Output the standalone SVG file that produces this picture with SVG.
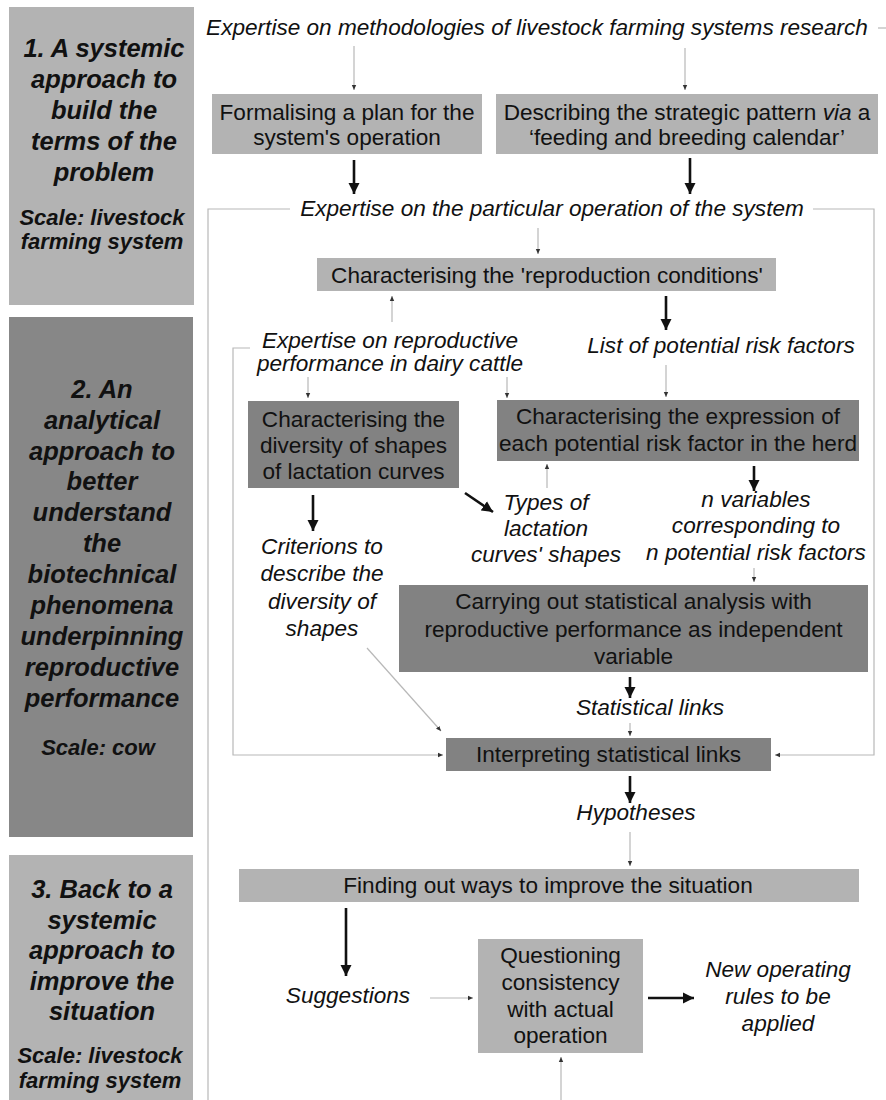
<svg xmlns="http://www.w3.org/2000/svg" width="886" height="1100" viewBox="0 0 886 1100">
<defs>
<marker id="thin" markerUnits="userSpaceOnUse" markerWidth="6" markerHeight="6" refX="5" refY="3" orient="auto"><path d="M0,0.8 L5,3 L0,5.2 z" fill="#333"/></marker>
<marker id="thick" markerUnits="userSpaceOnUse" markerWidth="12" markerHeight="12" refX="11" refY="6" orient="auto"><path d="M0,0.5 L11,6 L0,11.5 z" fill="#111"/></marker>
</defs>
<style>
text{font-family:"Liberation Sans",Arial,sans-serif;fill:#111;text-anchor:middle}
.b{font-size:22.6px}
.i{font-size:22.6px;font-style:italic}
.h{font-size:25.5px;font-weight:bold;font-style:italic}
.s{font-size:22px;font-weight:bold;font-style:italic}
.light{fill:#b3b3b3}
.dark{fill:#828282}
.p2{fill:#878787}
.tl{fill:none;stroke:#b8b8b8;stroke-width:1.2}
.ta{fill:none;stroke:#b8b8b8;stroke-width:1.2;marker-end:url(#thin)}
.k{fill:none;stroke:#111;stroke-width:2.6;marker-end:url(#thick)}
</style>
<rect width="886" height="1100" fill="#fff"/>

<g id="panel1">
<rect class="light" x="9" y="7" width="185" height="298"/>
<text class="h" x="104" y="57">1. A systemic</text>
<text class="h" x="104" y="88">approach to</text>
<text class="h" x="104" y="119">build the</text>
<text class="h" x="104" y="150">terms of the</text>
<text class="h" x="104" y="181">problem</text>
<text class="s" x="102" y="225">Scale: livestock</text>
<text class="s" x="102" y="249">farming system</text>
</g>
<g id="panel2">
<rect class="p2" x="9" y="317" width="184" height="520"/>
<text class="h" x="102" y="398">2. An</text>
<text class="h" x="102" y="429">analytical</text>
<text class="h" x="102" y="460">approach to</text>
<text class="h" x="102" y="490">better</text>
<text class="h" x="102" y="521">understand</text>
<text class="h" x="102" y="552">the</text>
<text class="h" x="102" y="583">biotechnical</text>
<text class="h" x="102" y="614">phenomena</text>
<text class="h" x="102" y="645">underpinning</text>
<text class="h" x="102" y="676">reproductive</text>
<text class="h" x="102" y="707">performance</text>
<text class="s" x="98" y="755">Scale: cow</text>
</g>
<g id="panel3">
<rect class="light" x="9" y="855" width="184" height="245"/>
<text class="h" x="102" y="898">3. Back to a</text>
<text class="h" x="102" y="929">systemic</text>
<text class="h" x="102" y="959">approach to</text>
<text class="h" x="102" y="990">improve the</text>
<text class="h" x="102" y="1020">situation</text>
<text class="s" x="100" y="1063">Scale: livestock</text>
<text class="s" x="100" y="1088">farming system</text>
</g>

<g id="connectors">
<line class="tl" x1="878" y1="28" x2="886" y2="28"/>
<line class="ta" x1="354" y1="46" x2="354" y2="90"/>
<line class="ta" x1="685" y1="48" x2="685" y2="90"/>
<polyline class="tl" points="290,209 208,209 208,1100"/>
<polyline class="ta" points="813,209 874,209 874,755 775,755"/>
<line class="ta" x1="538" y1="228" x2="538" y2="254"/>
<line class="ta" x1="392" y1="322" x2="392" y2="296"/>
<line class="ta" x1="308" y1="377" x2="308" y2="398"/>
<line class="ta" x1="507" y1="377" x2="507" y2="398"/>
<line class="ta" x1="666" y1="365" x2="666" y2="397"/>
<line class="ta" x1="547" y1="488" x2="547" y2="464"/>
<line class="ta" x1="754" y1="568" x2="754" y2="582"/>
<polyline class="ta" points="250,348 233,348 233,755 443,755"/>
<line class="ta" x1="367" y1="648" x2="441" y2="731"/>
<line class="ta" x1="630" y1="723" x2="630" y2="736"/>
<line class="ta" x1="630" y1="832" x2="630" y2="866"/>
<line class="ta" x1="430" y1="998" x2="473" y2="998"/>
<line class="ta" x1="561" y1="1100" x2="561" y2="1057"/>
<line class="k" x1="354" y1="160" x2="354" y2="194"/>
<line class="k" x1="690" y1="158" x2="690" y2="194"/>
<line class="k" x1="666" y1="296" x2="666" y2="330"/>
<line class="k" x1="313" y1="495" x2="313" y2="531"/>
<line class="k" x1="465" y1="493" x2="493" y2="512"/>
<line class="k" x1="754" y1="466" x2="754" y2="491"/>
<line class="k" x1="630" y1="677" x2="630" y2="698"/>
<line class="k" x1="630" y1="776" x2="630" y2="803"/>
<line class="k" x1="346" y1="908" x2="346" y2="976"/>
<line class="k" x1="648" y1="998" x2="694" y2="998"/>
</g>

<g id="expertise-methods">
<text class="i" x="537" y="35">Expertise on methodologies of livestock farming systems research</text>
</g>
<g id="formalising">
<rect class="light" x="212" y="94" width="270" height="60"/>
<text class="b" x="347" y="120">Formalising a plan for the</text>
<text class="b" x="347" y="145">system's operation</text>
</g>
<g id="describing">
<rect class="light" x="496" y="94" width="382" height="60"/>
<text class="b" x="687" y="120">Describing the strategic pattern <tspan font-style="italic">via</tspan> a</text>
<text class="b" x="687" y="145">‘feeding and breeding calendar’</text>
</g>
<g id="expertise-operation">
<text class="i" x="552" y="216">Expertise on the particular operation of the system</text>
</g>
<g id="reproduction-conditions">
<rect class="light" x="317" y="258" width="459" height="33"/>
<text class="b" x="547" y="283">Characterising the 'reproduction conditions'</text>
</g>
<g id="expertise-repro">
<text class="i" x="390" y="348">Expertise on reproductive</text>
<text class="i" x="390" y="371">performance in dairy cattle</text>
</g>
<g id="risk-list">
<text class="i" x="721" y="353">List of potential risk factors</text>
</g>
<g id="lactation-shapes">
<rect class="dark" x="248" y="401" width="211" height="87"/>
<text class="b" x="353.5" y="427">Characterising the</text>
<text class="b" x="353.5" y="453">diversity of shapes</text>
<text class="b" x="353.5" y="479">of lactation curves</text>
</g>
<g id="risk-expression">
<rect class="dark" x="497" y="400" width="362" height="61"/>
<text class="b" x="678" y="424">Characterising the expression of</text>
<text class="b" x="678" y="451">each potential risk factor in the herd</text>
</g>
<g id="types">
<text class="i" x="546" y="510">Types of</text>
<text class="i" x="546" y="536">lactation</text>
<text class="i" x="546" y="562">curves' shapes</text>
</g>
<g id="n-variables">
<text class="i" x="756" y="507">n variables</text>
<text class="i" x="756" y="533">corresponding to</text>
<text class="i" x="756" y="560">n potential risk factors</text>
</g>
<g id="criterions">
<text class="i" x="322" y="554">Criterions to</text>
<text class="i" x="322" y="581">describe the</text>
<text class="i" x="322" y="609">diversity of</text>
<text class="i" x="322" y="636">shapes</text>
</g>
<g id="statistical-analysis">
<rect class="dark" x="399" y="585" width="469" height="87"/>
<text class="b" x="633.5" y="609">Carrying out statistical analysis with</text>
<text class="b" x="633.5" y="637">reproductive performance as independent</text>
<text class="b" x="633.5" y="664">variable</text>
</g>
<g id="statistical-links">
<text class="i" x="650" y="715">Statistical links</text>
</g>
<g id="interpreting">
<rect class="dark" x="446" y="738" width="325" height="33"/>
<text class="b" x="608.5" y="762">Interpreting statistical links</text>
</g>
<g id="hypotheses">
<text class="i" x="636" y="820">Hypotheses</text>
</g>
<g id="finding">
<rect class="light" x="239" y="869" width="620" height="33"/>
<text class="b" x="548" y="893">Finding out ways to improve the situation</text>
</g>
<g id="suggestions">
<text class="i" x="348" y="1003">Suggestions</text>
</g>
<g id="questioning">
<rect class="light" x="478" y="939" width="165" height="114"/>
<text class="b" x="560.5" y="963">Questioning</text>
<text class="b" x="560.5" y="990">consistency</text>
<text class="b" x="560.5" y="1017">with actual</text>
<text class="b" x="560.5" y="1043">operation</text>
</g>
<g id="new-rules">
<text class="i" x="778" y="977">New operating</text>
<text class="i" x="778" y="1004">rules to be</text>
<text class="i" x="778" y="1031">applied</text>
</g>
</svg>
